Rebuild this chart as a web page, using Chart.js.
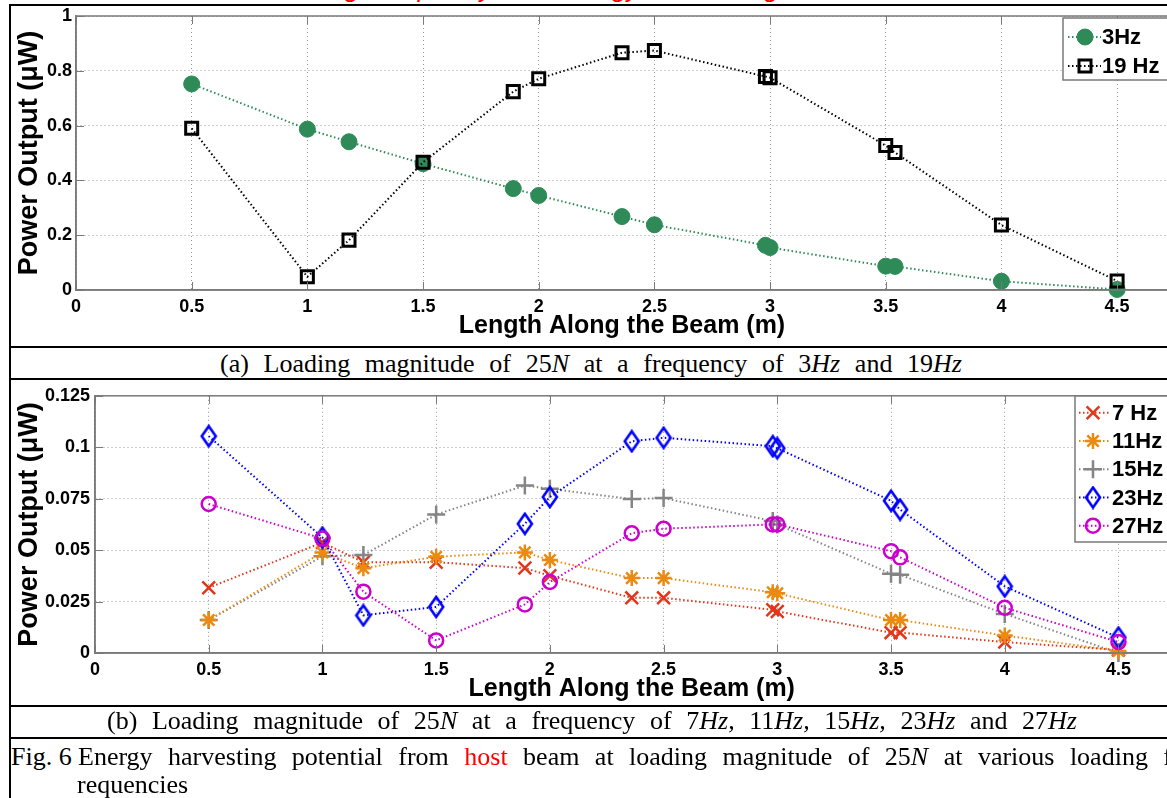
<!DOCTYPE html>
<html>
<head>
<meta charset="utf-8">
<title>Energy harvesting potential from host beam</title>
<script src="https://cdn.jsdelivr.net/npm/chart.js@4.4.1/dist/chart.umd.min.js"></script>
<style>
  html, body { margin:0; padding:0; background:#fff; }
  body { position:relative; width:1167px; height:798px; overflow:hidden; }
  .hl { position:absolute; left:9px; width:1170px; height:2px; background:#000; }
  .vl { position:absolute; left:9px; top:5px; width:2px; height:800px; background:#000; }
  .cv { position:absolute; left:0; }
  .serif { position:absolute; font-family:"Liberation Serif","Times New Roman",serif; font-size:26px; line-height:28px; color:#000; white-space:nowrap; }
  .just { white-space:normal; text-align:justify; text-align-last:justify; }
  #redtitle { position:absolute; left:149px; top:-25px; font-family:"Liberation Sans",Arial,sans-serif; font-style:italic; font-size:26px; line-height:26px; color:#ff0000; white-space:nowrap; word-spacing:12px; }
</style>
</head>
<body>
<div id="redtitle">Effect of loading frequency on energy harvesting</div>
<canvas id="chartA" class="cv" width="1180" height="347" style="top:0px"></canvas>
<canvas id="chartB" class="cv" width="1180" height="326" style="top:380px"></canvas>

<div class="hl" style="top:4px"></div>
<div class="vl"></div>
<div class="hl" style="top:346px"></div>
<div class="hl" style="top:378px"></div>
<div class="hl" style="top:705px"></div>
<div class="hl" style="top:737px"></div>

<div class="serif just" style="left:220px; top:350px; width:742px;">(a) Loading magnitude of 25<i>N</i> at a frequency of 3<i>Hz</i> and 19<i>Hz</i></div>
<div class="serif just" style="left:107px; top:707px; width:970px;">(b) Loading magnitude of 25<i>N</i> at a frequency of 7<i>Hz,</i> 11<i>Hz,</i> 15<i>Hz,</i> 23<i>Hz</i> and 27<i>Hz</i></div>
<div class="serif" style="left:11px; top:743px;">Fig. 6</div>
<div class="serif just" style="left:78px; top:743px; width:1094px;">Energy harvesting potential from <span style="color:#ff0000">host</span> beam at loading magnitude of 25<i>N</i> at various loading f</div>
<div class="serif" style="left:77px; top:771px;">requencies</div>

<script>
// ---------------- data ----------------
const lengthM = [0.5, 1, 1.18, 1.5, 1.89, 2, 2.36, 2.5, 2.98, 3, 3.5, 3.54, 4, 4.5];

// panel (a)
const seriesNamesA = ['3Hz', '19 Hz'];
const power3Hz  = [0.752, 0.587, 0.541, 0.461, 0.370, 0.345, 0.268, 0.238, 0.163, 0.155, 0.087, 0.086, 0.032, 0.002];
const power19Hz = [0.590, 0.048, 0.182, 0.466, 0.724, 0.771, 0.866, 0.874, 0.779, 0.775, 0.527, 0.502, 0.237, 0.033];

// panel (b)
const seriesNamesB = ['7 Hz', '11Hz', '15Hz', '23Hz', '27Hz'];
const power7Hz  = [0.0317, 0.0537, 0.0441, 0.0441, 0.0413, 0.0375, 0.0268, 0.0268, 0.0210, 0.0202, 0.0099, 0.0099, 0.0053, 0.0015];
const power11Hz = [0.0160, 0.0489, 0.0412, 0.0468, 0.0489, 0.0452, 0.0364, 0.0364, 0.0295, 0.0290, 0.0160, 0.0160, 0.0085, 0.0010];
const power15Hz = [0.0160, 0.0470, 0.0476, 0.0673, 0.0814, 0.0798, 0.0748, 0.0753, 0.0641, 0.0625, 0.0385, 0.0380, 0.0190, 0.0000];
const power23Hz = [0.1054, 0.0561, 0.0183, 0.0224, 0.0628, 0.0758, 0.1029, 0.1046, 0.1005, 0.0995, 0.0740, 0.0697, 0.0324, 0.0075];
const power27Hz = [0.0724, 0.0556, 0.0298, 0.0061, 0.0236, 0.0345, 0.0582, 0.0604, 0.0625, 0.0625, 0.0495, 0.0465, 0.0220, 0.0053];

// tick labels
const xTickLabels  = ['0', '0.5', '1', '1.5', '2', '2.5', '3', '3.5', '4', '4.5'];
const yTickLabelsA = ['0', '0.2', '0.4', '0.6', '0.8', '1'];
const yTickLabelsB = ['0', '0.025', '0.05', '0.075', '0.1', '0.125'];

const X_TITLE = 'Length Along the Beam (m)';
const Y_TITLE = 'Power Output (\u03bcW)';
const X_MAX = 4.72;

// ---------------- styles ----------------
const GREEN = '#2e8b57', BLACK = '#000000';
const C7 = '#e2361a', C11 = '#ea8a10', C15 = '#858585', C23 = '#0000ff', C27 = '#cc00cc';
const GRID = '#9a9a9a', AXIS = '#7a7a7a';
const LINE_DASH = [1.5, 2.5];

Chart.defaults.font.family = '"Liberation Sans", Arial, sans-serif';

function makeDiamond(color) {
  const c = document.createElement('canvas');
  c.width = 18; c.height = 24;
  const g = c.getContext('2d');
  g.strokeStyle = color; g.lineWidth = 2.6;
  g.beginPath(); g.moveTo(9, 2); g.lineTo(16, 12); g.lineTo(9, 22); g.lineTo(2, 12); g.closePath(); g.stroke();
  return c;
}

function pts(values) { return lengthM.map((x, i) => ({ x: x, y: values[i] })); }

function series(label, values, color, style, radius, pbw, fill, order) {
  return {
    label: label, data: pts(values),
    borderColor: color, backgroundColor: color, borderWidth: 2, borderDash: LINE_DASH,
    pointStyle: style, pointRadius: radius, pointHoverRadius: radius,
    pointBorderColor: color, pointBackgroundColor: fill, pointBorderWidth: pbw,
    tension: 0, clip: false, order: order, fill: false
  };
}

function labelFor(arr, v, step) {
  const i = Math.round(v / step);
  return Math.abs(v - i * step) < step * 1e-6 ? (arr[i] !== undefined ? arr[i] : '') : '';
}

function drawMarker(ctx, ds, x, y) {
  const st = ds.pointStyle, r = ds.pointRadius;
  ctx.save();
  ctx.setLineDash([]);
  ctx.lineWidth = ds.pointBorderWidth;
  ctx.strokeStyle = ds.pointBorderColor;
  ctx.fillStyle = ds.pointBackgroundColor;
  if (typeof st !== 'string') { ctx.drawImage(st, x - st.width / 2, y - st.height / 2); ctx.restore(); return; }
  const d = r * Math.SQRT1_2;
  ctx.beginPath();
  if (st === 'circle') { ctx.arc(x, y, r, 0, Math.PI * 2); ctx.closePath(); ctx.fill(); }
  else if (st === 'rect') { ctx.rect(x - d, y - d, 2 * d, 2 * d); ctx.fill(); }
  else {
    if (st === 'cross' || st === 'star') { ctx.moveTo(x, y - r); ctx.lineTo(x, y + r); ctx.moveTo(x - r, y); ctx.lineTo(x + r, y); }
    if (st === 'crossRot' || st === 'star') { ctx.moveTo(x - d, y - d); ctx.lineTo(x + d, y + d); ctx.moveTo(x - d, y + d); ctx.lineTo(x + d, y - d); }
  }
  ctx.stroke();
  ctx.restore();
}

function makeFramePlugin(L) {
  return {
    id: 'matlabFrame',
    afterDraw(chart) {
      const ctx = chart.ctx, a = chart.chartArea, xs = chart.scales.x, ys = chart.scales.y;
      ctx.save();
      ctx.setLineDash([]);
      ctx.strokeStyle = AXIS;
      ctx.lineWidth = 1;
      ctx.beginPath();
      xs.ticks.forEach(t => {
        const p = Math.round(xs.getPixelForValue(t.value)) + 0.5;
        ctx.moveTo(p, a.bottom); ctx.lineTo(p, a.bottom - 8);
        ctx.moveTo(p, a.top); ctx.lineTo(p, a.top + 8);
      });
      ys.ticks.forEach(t => {
        const p = Math.round(ys.getPixelForValue(t.value)) + 0.5;
        ctx.moveTo(a.left, p); ctx.lineTo(a.left + 8, p);
      });
      ctx.stroke();
      ctx.lineWidth = 1.5;
      ctx.strokeRect(a.left, a.top, a.right - a.left, a.bottom - a.top);
      // legend box
      ctx.fillStyle = '#ffffff';
      ctx.fillRect(L.x, L.y, L.w, L.h);
      ctx.strokeStyle = AXIS; ctx.lineWidth = 1.5;
      ctx.strokeRect(L.x, L.y, L.w, L.h);
      chart.data.datasets.forEach((ds, i) => {
        const y = L.rows[i];
        ctx.save();
        ctx.strokeStyle = ds.borderColor; ctx.lineWidth = ds.borderWidth; ctx.setLineDash(ds.borderDash);
        ctx.beginPath(); ctx.moveTo(L.lineX[0], y); ctx.lineTo(L.lineX[1], y); ctx.stroke();
        ctx.restore();
        drawMarker(ctx, ds, L.markerX, y);
        ctx.fillStyle = '#000'; ctx.font = L.font; ctx.textBaseline = 'middle'; ctx.textAlign = 'left';
        ctx.fillText(ds.label, L.textX, y + 1);
      });
      ctx.restore();
    }
  };
}

function axes(p) {
  return {
    x: {
      type: 'linear', position: 'bottom', min: 0, max: X_MAX,
      afterFit: s => { s.height = p.xHeight; },
      grid: { color: GRID, lineWidth: 1, drawTicks: false },
      border: { display: true, color: AXIS, width: 1.5, dash: [1, 3] },
      ticks: { stepSize: 0.5, includeBounds: false, autoSkip: false, maxRotation: 0, minRotation: 0,
               padding: p.xTickPad, color: '#000', font: { size: 18, weight: 'bold' },
               callback: v => labelFor(xTickLabels, v, 0.5) },
      title: { display: true, text: X_TITLE, color: '#000', font: { size: 25, weight: 'bold' },
               padding: { top: 0, bottom: p.xTitlePad } }
    },
    y: {
      type: 'linear', position: 'left', min: 0, max: p.yMax,
      afterFit: s => { s.width = p.yWidth; },
      grid: { color: GRID, lineWidth: 1, drawTicks: false },
      border: { display: true, color: AXIS, width: 1.5, dash: [1, 3] },
      ticks: { stepSize: p.yStep, includeBounds: false, autoSkip: false,
               padding: p.yTickPad, color: '#000', font: { size: 18, weight: 'bold' },
               callback: v => labelFor(p.yLabels, v, p.yStep) },
      title: { display: true, text: Y_TITLE, color: '#000', font: { size: 27, weight: 'bold' },
               padding: { top: p.yTitlePad, bottom: 0 } }
    }
  };
}

const common = {
  responsive: false, maintainAspectRatio: false, devicePixelRatio: 1, animation: false, events: [],
  plugins: { legend: { display: false }, tooltip: { enabled: false }, title: { display: false } }
};

// ---------------- chart (a) ----------------
new Chart(document.getElementById('chartA'), {
  type: 'line',
  data: {
    datasets: [
      series(seriesNamesA[0], power3Hz, GREEN, 'circle', 8, 1, GREEN, 1),
      series(seriesNamesA[1], power19Hz, BLACK, 'rect', 8.5, 3, 'rgba(0,0,0,0)', 0)
    ]
  },
  options: Object.assign({}, common, {
    layout: { padding: { left: 10, top: 16, right: 12, bottom: 0 } },
    scales: axes({ xHeight: 57, xTickPad: 6, xTitlePad: 6, yMax: 1, yStep: 0.2, yLabels: yTickLabelsA,
                   yWidth: 66, yTickPad: 4, yTitlePad: 3 })
  }),
  plugins: [makeFramePlugin({ x: 1063, y: 18, w: 130, h: 62, rows: [37, 66], lineX: [1068, 1101],
                              markerX: 1085, textX: 1102, font: 'bold 22px "Liberation Sans", Arial, sans-serif' })]
});

// ---------------- chart (b) ----------------
new Chart(document.getElementById('chartB'), {
  type: 'line',
  data: {
    datasets: [
      series(seriesNamesB[0], power7Hz,  C7,  'crossRot', 9, 2.5, 'rgba(0,0,0,0)', 4),
      series(seriesNamesB[1], power11Hz, C11, 'star', 8, 2.5, 'rgba(0,0,0,0)', 2),
      series(seriesNamesB[2], power15Hz, C15, 'cross', 9, 2.5, 'rgba(0,0,0,0)', 3),
      series(seriesNamesB[3], power23Hz, C23, makeDiamond(C23), 9, 2.5, 'rgba(0,0,0,0)', 1),
      series(seriesNamesB[4], power27Hz, C27, 'circle', 7, 2.5, 'rgba(0,0,0,0)', 0)
    ]
  },
  options: Object.assign({}, common, {
    layout: { padding: { left: 10, top: 13, right: 11, bottom: 0 } },
    scales: axes({ xHeight: 53, xTickPad: 6, xTitlePad: 2, yMax: 0.125, yStep: 0.025, yLabels: yTickLabelsB,
                   yWidth: 85, yTickPad: 5, yTitlePad: 3 })
  }),
  plugins: [makeFramePlugin({ x: 1075, y: 16, w: 120, h: 146, rows: [32.7, 61, 89.2, 117.5, 145.7], lineX: [1079, 1110],
                              markerX: 1093, textX: 1112, font: 'bold 22px "Liberation Sans", Arial, sans-serif' })]
});
</script>
</body>
</html>
